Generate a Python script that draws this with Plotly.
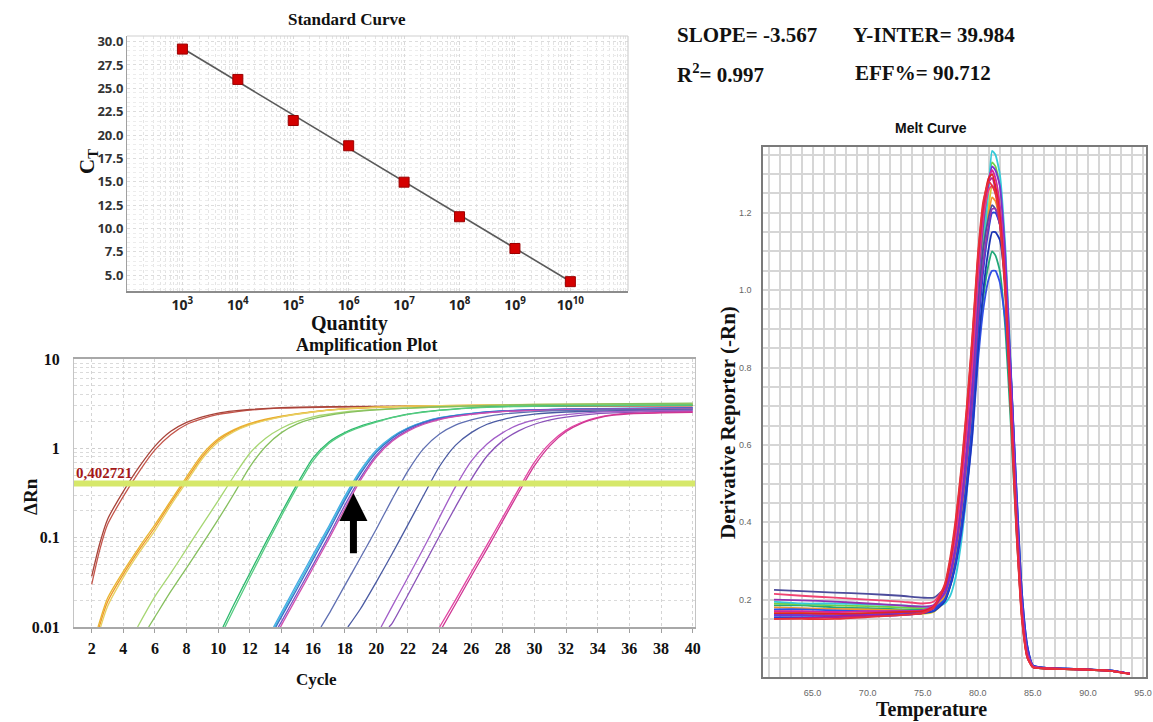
import plotly.graph_objects as go

W, H = 1153, 722

# ---------------- Standard curve ----------------
std_quantity = [1e3, 1e4, 1e5, 1e6, 1e7, 1e8, 1e9, 1e10]
std_exponent = [3, 4, 5, 6, 7, 8, 9, 10]
std_ct = [29.2, 25.95, 21.55, 18.85, 14.95, 11.25, 7.85, 4.3]
std_ct_ticks = [5.0, 7.5, 10.0, 12.5, 15.0, 17.5, 20.0, 22.5, 25.0, 27.5, 30.0]
fit_slope = -3.567
fit_intercept = 39.984
fit_r2 = 0.997
fit_eff = 90.712

# ---------------- Amplification plot ----------------
amp_threshold = 0.402721
amp_cycle_ticks = list(range(2, 41, 2))
amp_drn_ticks = [0.01, 0.1, 1, 10]
amp_drn_labels = ["0.01", "0.1", "1", "10"]

amp_red_cycle = [2, 2.5, 3, 4, 5, 6, 7, 8, 9, 10, 11, 12, 14, 17, 22, 30, 40]
amp_red1_drn = [0.030, 0.072, 0.14, 0.29, 0.55, 0.96, 1.42, 1.85, 2.15, 2.40, 2.55, 2.68, 2.82, 2.90, 2.95, 2.97, 2.98]
amp_red2_drn = [0.037, 0.085, 0.16, 0.33, 0.62, 1.06, 1.55, 1.95, 2.25, 2.48, 2.62, 2.72, 2.85, 2.92, 2.96, 2.99, 3.00]

amp_yel_cycle = [2.4, 3, 4, 5, 6, 7, 8, 9, 10, 11, 12, 13, 14, 16, 18, 22, 30, 40]
amp_yel1_drn = [0.010, 0.021, 0.042, 0.078, 0.14, 0.26, 0.48, 0.86, 1.28, 1.62, 1.90, 2.12, 2.30, 2.58, 2.78, 2.95, 3.05, 3.10]
amp_yel2_drn = [0.009, 0.019, 0.039, 0.073, 0.13, 0.245, 0.45, 0.81, 1.23, 1.58, 1.86, 2.08, 2.27, 2.56, 2.76, 2.96, 3.08, 3.12]
amp_yel3_drn = [0.008, 0.017, 0.036, 0.068, 0.12, 0.23, 0.42, 0.77, 1.18, 1.54, 1.83, 2.05, 2.25, 2.55, 2.76, 2.97, 3.10, 3.15]

amp_lg1_cycle = [4.9, 6, 7, 8, 9, 10, 11, 12, 13, 14, 15, 16, 18, 20, 24, 30, 40]
amp_lg1_drn = [0.010, 0.022, 0.040, 0.075, 0.14, 0.26, 0.49, 0.88, 1.30, 1.68, 2.00, 2.25, 2.55, 2.72, 2.90, 3.05, 3.15]
amp_lg2_cycle = [5.6, 6, 7, 8, 9, 10, 11, 12, 13, 14, 15, 16, 18, 20, 24, 30, 40]
amp_lg2_drn = [0.010, 0.013, 0.025, 0.046, 0.085, 0.16, 0.31, 0.62, 1.05, 1.50, 1.88, 2.15, 2.50, 2.70, 2.92, 3.10, 3.20]

amp_grn_cycle = [10.3, 11, 12, 13, 14, 15, 16, 17, 18, 19, 20, 21, 22, 24, 27, 32, 40]
amp_grn1_drn = [0.010, 0.018, 0.040, 0.088, 0.19, 0.40, 0.78, 1.18, 1.50, 1.77, 2.00, 2.22, 2.42, 2.68, 2.90, 3.00, 3.05]
amp_grn2_drn = [0.009, 0.016, 0.036, 0.080, 0.175, 0.37, 0.73, 1.13, 1.46, 1.73, 1.97, 2.20, 2.40, 2.66, 2.88, 2.99, 3.05]

amp_blu_cycle = [13.5, 14, 15, 16, 17, 18, 19, 20, 21, 22, 23, 24, 26, 28, 32, 40]
amp_blu1_drn = [0.010, 0.0146, 0.031, 0.065, 0.135, 0.29, 0.57, 0.96, 1.35, 1.70, 1.98, 2.20, 2.45, 2.60, 2.72, 2.80]
amp_blu2_drn = [0.009, 0.0130, 0.027, 0.057, 0.120, 0.26, 0.52, 0.90, 1.30, 1.66, 1.95, 2.18, 2.45, 2.62, 2.75, 2.85]
amp_blu3_drn = [0.008, 0.0115, 0.024, 0.050, 0.105, 0.23, 0.47, 0.84, 1.24, 1.60, 1.90, 2.14, 2.42, 2.60, 2.74, 2.82]
amp_blu4_drn = [0.007, 0.0105, 0.022, 0.046, 0.097, 0.21, 0.44, 0.80, 1.20, 1.56, 1.86, 2.10, 2.40, 2.58, 2.70, 2.78]
amp_blu5_drn = [0.0095, 0.0138, 0.029, 0.061, 0.128, 0.275, 0.55, 0.93, 1.33, 1.68, 1.97, 2.19, 2.46, 2.62, 2.76, 2.86]

amp_sl1_cycle = [16.5, 17, 18, 19, 20, 21, 22, 23, 24, 25, 26, 27, 28, 30, 34, 40]
amp_sl1_drn = [0.010, 0.014, 0.029, 0.060, 0.125, 0.27, 0.56, 1.00, 1.45, 1.82, 2.08, 2.28, 2.42, 2.58, 2.70, 2.75]
amp_sl2_cycle = [18.2, 19, 20, 21, 22, 23, 24, 25, 26, 27, 28, 29, 30, 32, 36, 40]
amp_sl2_drn = [0.010, 0.016, 0.032, 0.066, 0.14, 0.30, 0.63, 1.08, 1.50, 1.86, 2.10, 2.29, 2.42, 2.55, 2.65, 2.70]

amp_pur1_cycle = [20.3, 21, 22, 23, 24, 25, 26, 27, 28, 29, 30, 31, 32, 34, 37, 40]
amp_pur1_drn = [0.010, 0.017, 0.036, 0.077, 0.17, 0.37, 0.72, 1.12, 1.50, 1.84, 2.08, 2.26, 2.38, 2.54, 2.62, 2.65]
amp_pur2_cycle = [20.8, 21, 22, 23, 24, 25, 26, 27, 28, 29, 30, 31, 32, 34, 37, 40]
amp_pur2_drn = [0.010, 0.011, 0.023, 0.049, 0.105, 0.22, 0.45, 0.82, 1.22, 1.57, 1.86, 2.08, 2.24, 2.45, 2.55, 2.60]

amp_mag_cycle = [24.0, 25, 26, 27, 28, 29, 30, 31, 32, 33, 34, 35, 36, 38, 40]
amp_mag1_drn = [0.010, 0.020, 0.041, 0.083, 0.17, 0.35, 0.70, 1.15, 1.60, 1.96, 2.22, 2.38, 2.46, 2.52, 2.55]
amp_mag2_drn = [0.0088, 0.018, 0.037, 0.075, 0.155, 0.32, 0.64, 1.08, 1.54, 1.92, 2.18, 2.35, 2.44, 2.50, 2.53]

# ---------------- Melt curve ----------------
melt_temp = [61.5, 64, 67, 70, 73, 75, 76, 77, 77.5, 78, 78.5, 79, 79.5, 80, 80.5, 81, 81.3, 81.6,
             82, 82.5, 83, 83.5, 84, 84.5, 85, 86, 89, 92, 93.8]
melt_red = [0.15, 0.15, 0.15, 0.155, 0.16, 0.165, 0.18, 0.24, 0.31, 0.41, 0.54, 0.70, 0.88, 1.09, 1.23, 1.28, 1.27, 1.25,
            1.17, 0.98, 0.68, 0.38, 0.15, 0.05, 0.025, 0.022, 0.02, 0.016, 0.008]
melt_magenta = [0.17, 0.17, 0.168, 0.17, 0.17, 0.172, 0.185, 0.235, 0.30, 0.39, 0.51, 0.66, 0.84, 1.06, 1.21, 1.29, 1.31, 1.29,
                1.22, 1.03, 0.73, 0.42, 0.17, 0.055, 0.026, 0.023, 0.02, 0.016, 0.009]
melt_pink = [0.215, 0.21, 0.205, 0.20, 0.195, 0.19, 0.195, 0.235, 0.29, 0.37, 0.49, 0.64, 0.81, 1.03, 1.19, 1.26, 1.27, 1.25,
             1.19, 1.01, 0.72, 0.41, 0.17, 0.055, 0.027, 0.023, 0.02, 0.016, 0.009]
melt_purple = [0.16, 0.16, 0.16, 0.162, 0.165, 0.17, 0.18, 0.22, 0.27, 0.35, 0.46, 0.60, 0.77, 1.00, 1.17, 1.28, 1.32, 1.31,
               1.27, 1.09, 0.79, 0.46, 0.19, 0.065, 0.028, 0.023, 0.02, 0.016, 0.009]
melt_blue = [0.155, 0.155, 0.155, 0.158, 0.16, 0.165, 0.172, 0.20, 0.24, 0.30, 0.39, 0.51, 0.66, 0.88, 1.05, 1.16, 1.20, 1.20,
             1.17, 1.04, 0.79, 0.49, 0.22, 0.08, 0.03, 0.024, 0.021, 0.017, 0.009]
melt_blue_low = [0.175, 0.175, 0.172, 0.17, 0.17, 0.172, 0.178, 0.20, 0.235, 0.29, 0.37, 0.48, 0.62, 0.81, 0.95, 1.03, 1.05, 1.05,
                 1.02, 0.92, 0.71, 0.44, 0.20, 0.075, 0.03, 0.024, 0.021, 0.017, 0.009]
melt_slate = [0.225, 0.222, 0.218, 0.215, 0.21, 0.205, 0.205, 0.23, 0.27, 0.34, 0.44, 0.57, 0.73, 0.95, 1.11, 1.19, 1.22, 1.21,
              1.17, 1.01, 0.74, 0.43, 0.18, 0.06, 0.028, 0.023, 0.02, 0.016, 0.009]
melt_cyan = [0.195, 0.19, 0.19, 0.188, 0.185, 0.182, 0.18, 0.19, 0.21, 0.26, 0.35, 0.48, 0.65, 0.90, 1.10, 1.27, 1.36, 1.35,
             1.30, 1.11, 0.80, 0.46, 0.19, 0.06, 0.026, 0.022, 0.02, 0.016, 0.009]
melt_teal = [0.185, 0.185, 0.18, 0.178, 0.175, 0.175, 0.178, 0.20, 0.24, 0.30, 0.39, 0.50, 0.64, 0.83, 0.98, 1.07, 1.10, 1.09,
             1.05, 0.90, 0.65, 0.38, 0.16, 0.055, 0.026, 0.022, 0.02, 0.016, 0.009]
melt_lime = [0.19, 0.188, 0.185, 0.183, 0.18, 0.178, 0.18, 0.205, 0.245, 0.31, 0.41, 0.55, 0.72, 0.96, 1.14, 1.28, 1.33, 1.32,
             1.27, 1.08, 0.78, 0.45, 0.19, 0.06, 0.026, 0.022, 0.02, 0.016, 0.009]
melt_yellow = [0.17, 0.168, 0.165, 0.165, 0.163, 0.163, 0.168, 0.195, 0.235, 0.30, 0.40, 0.53, 0.69, 0.92, 1.09, 1.22, 1.27, 1.26,
               1.21, 1.03, 0.74, 0.43, 0.18, 0.06, 0.026, 0.022, 0.02, 0.016, 0.009]
melt_orange = [0.18, 0.178, 0.176, 0.175, 0.172, 0.17, 0.176, 0.21, 0.255, 0.325, 0.43, 0.56, 0.72, 0.94, 1.10, 1.20, 1.24, 1.23,
               1.18, 1.01, 0.73, 0.42, 0.17, 0.058, 0.026, 0.022, 0.02, 0.016, 0.009]
melt_red2 = [0.165, 0.165, 0.163, 0.165, 0.168, 0.17, 0.182, 0.235, 0.30, 0.40, 0.53, 0.69, 0.87, 1.08, 1.22, 1.29, 1.30, 1.27,
             1.19, 1.00, 0.70, 0.39, 0.155, 0.05, 0.025, 0.022, 0.02, 0.016, 0.008]
melt_magenta2 = [0.15, 0.152, 0.155, 0.158, 0.16, 0.165, 0.178, 0.23, 0.295, 0.39, 0.52, 0.68, 0.86, 1.07, 1.21, 1.28, 1.29, 1.26,
                 1.19, 1.01, 0.71, 0.40, 0.16, 0.05, 0.026, 0.022, 0.02, 0.016, 0.009]
melt_purple2 = [0.20, 0.198, 0.195, 0.19, 0.185, 0.182, 0.186, 0.215, 0.26, 0.33, 0.43, 0.56, 0.71, 0.92, 1.07, 1.17, 1.21, 1.21,
                1.17, 1.01, 0.74, 0.44, 0.19, 0.065, 0.028, 0.023, 0.02, 0.016, 0.009]
melt_blue3 = [0.16, 0.16, 0.158, 0.16, 0.162, 0.165, 0.17, 0.195, 0.235, 0.295, 0.38, 0.49, 0.63, 0.84, 1.00, 1.11, 1.15, 1.15,
              1.13, 1.01, 0.78, 0.49, 0.22, 0.08, 0.03, 0.024, 0.021, 0.017, 0.009]
melt_temp_ticks = [65, 70, 75, 80, 85, 90, 95]
melt_y_ticks = [0.2, 0.4, 0.6, 0.8, 1.0, 1.2]

SERIF = "Liberation Serif"
SANS = "Liberation Sans"


def px_x(px):
    return px / W


def px_y(py):
    return 1 - py / H


fig = go.Figure()

# ---- standard curve traces (axes x / y)
fit_x = [std_quantity[0], std_quantity[-1]]
fit_y = [fit_slope * e + fit_intercept for e in (std_exponent[0], std_exponent[-1])]
fig.add_trace(go.Scatter(x=fit_x, y=fit_y, mode="lines", line=dict(color="#5a5a5a", width=1.6),
                         xaxis="x", yaxis="y", showlegend=False, hoverinfo="skip"))
fig.add_trace(go.Scatter(x=std_quantity, y=std_ct, mode="markers",
                         marker=dict(symbol="square", size=10, color="#d40000",
                                     line=dict(color="#9a0000", width=1)),
                         xaxis="x", yaxis="y", showlegend=False))

# ---- amplification traces (axes x2 / y2)
amp_series = [
    (amp_red_cycle, amp_red1_drn, "#c4564c"),
    (amp_red_cycle, amp_red2_drn, "#a8443a"),
    (amp_yel_cycle, amp_yel1_drn, "#e8b630"),
    (amp_yel_cycle, amp_yel2_drn, "#f09a28"),
    (amp_yel_cycle, amp_yel3_drn, "#e6d060"),
    (amp_lg1_cycle, amp_lg1_drn, "#a6d672"),
    (amp_lg2_cycle, amp_lg2_drn, "#86bf5e"),
    (amp_grn_cycle, amp_grn1_drn, "#2cb86e"),
    (amp_grn_cycle, amp_grn2_drn, "#56cc80"),
    (amp_blu_cycle, amp_blu1_drn, "#4aa6e6"),
    (amp_blu_cycle, amp_blu5_drn, "#40c4dc"),
    (amp_blu_cycle, amp_blu2_drn, "#3a6cc8"),
    (amp_blu_cycle, amp_blu3_drn, "#7a52c4"),
    (amp_blu_cycle, amp_blu4_drn, "#d050b0"),
    (amp_sl1_cycle, amp_sl1_drn, "#5f6fb2"),
    (amp_sl2_cycle, amp_sl2_drn, "#4a5aa2"),
    (amp_pur1_cycle, amp_pur1_drn, "#a25ec8"),
    (amp_pur2_cycle, amp_pur2_drn, "#8a52b8"),
    (amp_mag_cycle, amp_mag1_drn, "#e244a2"),
    (amp_mag_cycle, amp_mag2_drn, "#cf3592"),
]
for cyc, drn, col in amp_series:
    fig.add_trace(go.Scatter(x=cyc, y=drn, mode="lines", line=dict(color=col, width=1.3, shape="spline", smoothing=0.7),
                             xaxis="x2", yaxis="y2", showlegend=False, hoverinfo="skip"))

fig.add_trace(go.Scatter(x=[0.88, 40.15], y=[amp_threshold, amp_threshold], mode="lines",
                         line=dict(color="#d6e86a", width=6), xaxis="x2", yaxis="y2",
                         showlegend=False, hoverinfo="skip"))

# ---- melt traces (axes x3 / y3)
melt_series = [
    (melt_teal, "#22a878"), (melt_lime, "#72d044"), (melt_yellow, "#d8c830"), (melt_orange, "#f0962e"),
    (melt_cyan, "#34cad8"), (melt_slate, "#4c4c9c"), (melt_blue_low, "#3050e6"), (melt_blue3, "#1a32b4"),
    (melt_blue, "#2444d4"), (melt_purple2, "#9032b2"), (melt_purple, "#7a30d0"), (melt_pink, "#f04272"),
    (melt_magenta2, "#c0188a"), (melt_magenta, "#d8229a"), (melt_red2, "#e02424"), (melt_red, "#e8303c"),
]
for vals, col in melt_series:
    fig.add_trace(go.Scatter(x=melt_temp, y=vals, mode="lines", line=dict(color=col, width=1.8, shape="spline", smoothing=0.5),
                             xaxis="x3", yaxis="y3", showlegend=False, hoverinfo="skip"))

std_dom_x = [px_x(127), px_x(628)]
std_dom_y = [px_y(291), px_y(36)]
amp_dom_x = [px_x(74), px_x(695)]
amp_dom_y = [px_y(627), px_y(359)]
melt_dom_x = [px_x(763), px_x(1146)]
melt_dom_y = [px_y(677), px_y(147)]

fig.update_layout(
    width=W, height=H, autosize=False,
    margin=dict(l=0, r=0, t=0, b=0),
    paper_bgcolor="white", plot_bgcolor="white",
    template="none",
    xaxis=dict(domain=std_dom_x, anchor="y", type="log", range=[2.0, 11.04],
               tickvals=std_quantity, ticktext=[f"10<sup>{e}</sup>" for e in std_exponent],
               tickfont=dict(family="Open Sans", size=14, color="#222", weight="bold"),
               showgrid=True, gridcolor="#d9d9d9", griddash="dot", gridwidth=1,
               minor=dict(dtick="D1", showgrid=True, gridcolor="#e4e4e4", griddash="dot", gridwidth=1),
               showline=True, linecolor="#8c8c8c", linewidth=1.5, zeroline=False, ticks="",
               ticklabelstandoff=0),
    yaxis=dict(domain=std_dom_y, anchor="x", range=[3.3, 30.6],
               tickvals=std_ct_ticks, ticktext=[f"{v:.1f}" for v in std_ct_ticks],
               tickfont=dict(family="Open Sans", size=13, color="#333", weight="bold"),
               showgrid=True, gridcolor="#dcdcdc", griddash="dot",
               minor=dict(dtick=0.5, showgrid=True, gridcolor="#ececec", griddash="dot"),
               showline=True, linecolor="#a0a0a0", linewidth=1, zeroline=False, ticks=""),
    xaxis2=dict(domain=amp_dom_x, anchor="y2", range=[0.88, 40.15],
                tickvals=amp_cycle_ticks,
                tickfont=dict(family=SERIF, size=16, color="#111", weight="bold"),
                showgrid=True, gridcolor="#d4d4d4", griddash="dot",
                showline=True, linecolor="#a8a8a8", linewidth=1.5, mirror=True, zeroline=False,
                ticks="outside", ticklen=4, tickcolor="#a0a0a0", ticklabelstandoff=2),
    yaxis2=dict(domain=amp_dom_y, anchor="x2", type="log", range=[-2, 1],
                tickvals=amp_drn_ticks, ticktext=amp_drn_labels,
                tickfont=dict(family=SERIF, size=16, color="#111", weight="bold"),
                showgrid=True, gridcolor="#cfcfcf", griddash="dot",
                minor=dict(dtick="D1", showgrid=True, gridcolor="#dadada", griddash="dot"),
                showline=True, linecolor="#c4c4c4", linewidth=1.2, mirror=True, zeroline=False,
                ticks="", ticklabelstandoff=10),
    xaxis3=dict(domain=melt_dom_x, anchor="y3", range=[60.5, 95.27],
                tickvals=melt_temp_ticks, ticktext=[f"{v:.1f}" for v in melt_temp_ticks],
                tickfont=dict(family=SANS, size=9, color="#666"),
                showgrid=True, gridcolor="#d6d6d6", gridwidth=1.5,
                minor=dict(tick0=0, dtick=1, showgrid=True, gridcolor="#d6d6d6", gridwidth=1.5),
                showline=True, linecolor="#7a7a7a", linewidth=1.5, mirror=True, zeroline=False,
                ticks="", ticklabelstandoff=6),
    yaxis3=dict(domain=melt_dom_y, anchor="x3", range=[0, 1.37],
                tickvals=melt_y_ticks, ticktext=[f"{v:.1f}" for v in melt_y_ticks],
                tickfont=dict(family=SANS, size=9, color="#666"),
                showgrid=True, gridcolor="#d6d6d6", gridwidth=1.5,
                minor=dict(tick0=0, dtick=0.05, showgrid=True, gridcolor="#d6d6d6", gridwidth=1.5),
                showline=True, linecolor="#7a7a7a", linewidth=1.5, mirror=True, zeroline=False,
                ticks="", ticklabelstandoff=8),
)

# light frame on the top and right of the standard curve panel
fig.add_shape(type="line", xref="x domain", yref="y domain", x0=0, x1=1, y0=1, y1=1,
              line=dict(color="#d0d0d0", width=1.2))
fig.add_shape(type="line", xref="x domain", yref="y domain", x0=1, x1=1, y0=0, y1=1,
              line=dict(color="#d0d0d0", width=1.2))


def label(text, x, y, size, family=SERIF, bold=True, color="#111", angle=0, xanchor="center", yanchor="middle"):
    fig.add_annotation(text=text, x=px_x(x), y=px_y(y), xref="paper", yref="paper",
                       showarrow=False, textangle=angle, xanchor=xanchor, yanchor=yanchor,
                       font=dict(family=family, size=size, color=color, weight="bold" if bold else "normal"))


# panel titles and axis titles
label("Standard Curve", 347, 20, 17)
label("Quantity", 349, 323, 20)
label("C<sub>T</sub>", 88, 162, 21, angle=-90)
label("Amplification Plot", 367, 345, 18)
label("Cycle", 316, 679, 17)
label("ΔRn", 30, 497, 19, angle=-90)
label("Melt Curve", 931, 128, 14, family=SANS)
label("Temperature", 931, 709, 20)
label("Derivative Reporter (-Rn)", 728, 423, 21, angle=-90)

# fit statistics
label(f"SLOPE= {fit_slope:.3f}", 675, 35, 21, xanchor="left")
label(f"Y-INTER= {fit_intercept:.3f}", 851, 35, 21, xanchor="left")
label(f"R<sup>2</sup>= {fit_r2:.3f}", 675, 73, 21, xanchor="left")
label(f"EFF%= {fit_eff:.3f}", 853, 73, 21, xanchor="left")

# threshold value label
fig.add_annotation(text=f"{amp_threshold:.6f}".replace(".", ","), x=0.88, y=-0.385, xref="x2", yref="y2",
                   showarrow=False, xanchor="left", yanchor="bottom",
                   font=dict(family=SERIF, size=15, color="#a41818", weight="bold"))

# arrow marking the highlighted amplification curve
fig.add_annotation(x=18.55, y=-0.50, ax=18.55, ay=-1.19, xref="x2", yref="y2", axref="x2", ayref="y2",
                   text="", showarrow=True, arrowhead=2, arrowsize=0.8, arrowwidth=7, arrowcolor="black")

fig.write_html("out.html")
